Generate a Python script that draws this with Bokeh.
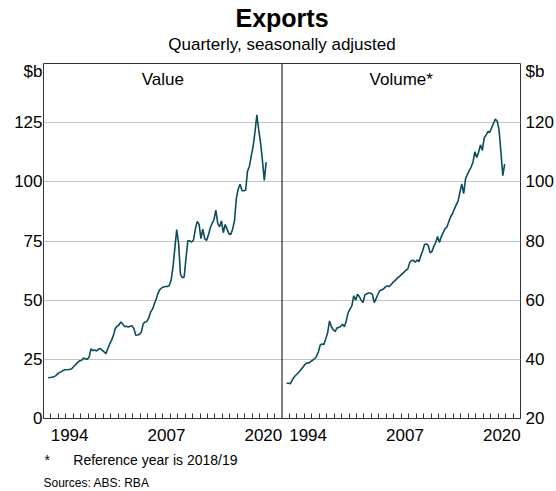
from bokeh.plotting import figure
from bokeh.models import Range1d, LinearAxis, FixedTicker, Label, Span, Title
from bokeh.embed import file_html
from bokeh.resources import INLINE

# ---------------- data ----------------
start_year, start_quarter = 1991, 3
value_bn = [
    17.2, 17.3, 17.4, 17.6, 18.0, 18.8, 19.4, 19.7, 20.3, 20.6,
    20.6, 20.7, 20.8, 21.3, 22.2, 23.0, 23.8, 24.4, 24.6, 25.6,
    25.2, 25.0, 26.0, 29.5, 28.6, 29.0, 28.5, 29.3, 29.6, 28.8,
    28.2, 27.4, 29.5, 31.5, 33.0, 35.0, 38.0, 39.0, 39.5, 40.8,
    40.0, 38.8, 39.0, 38.6, 39.0, 39.2, 38.0, 35.2, 35.3, 35.6,
    36.5, 40.0, 40.8, 41.0, 42.5, 45.0, 46.2, 48.5, 50.5, 53.0,
    54.6, 55.2, 55.6, 55.8, 55.8, 56.2, 58.5, 64.0, 72.0, 79.8,
    74.0, 61.0, 59.5, 59.8, 68.0, 75.2, 75.0, 74.6, 75.4, 80.0,
    83.3, 82.0, 76.0, 80.0, 76.0, 75.2, 77.5, 80.5, 82.5, 84.0,
    88.0, 82.5, 81.0, 83.5, 78.5, 82.0, 80.0, 78.0, 77.8, 80.0,
    83.5, 93.0, 97.0, 99.0, 96.3, 96.2, 96.5, 104.5, 106.5, 111.0,
    115.0, 121.0, 128.3, 122.0, 116.5, 109.0, 100.6, 108.3,
]
volume_bn = [
    31.9, 31.9, 31.8, 33.0, 34.0, 34.7, 35.3, 36.0, 36.8, 37.6,
    38.4, 38.8, 38.8, 39.3, 39.7, 40.2, 41.0, 42.5, 44.8, 45.2,
    45.0, 47.0, 49.0, 53.0, 51.0, 50.0, 49.4, 50.6, 50.8, 51.1,
    51.9, 51.0, 53.0, 55.8, 57.0, 58.1, 61.5, 60.0, 62.0, 61.2,
    60.0, 59.2, 61.8, 62.2, 62.4, 62.4, 62.0, 59.2, 60.5, 62.0,
    63.2, 63.5, 63.8, 64.5, 64.8, 64.6, 65.2, 66.0, 66.5, 67.2,
    67.8, 68.3, 68.9, 69.5, 70.1, 70.5, 72.7, 73.4, 73.5, 72.8,
    73.6, 73.0, 75.0, 76.7, 78.8, 79.0, 78.5, 76.0, 76.5, 78.2,
    79.5, 81.5, 79.5, 81.5, 82.8, 84.2, 84.7, 86.5, 88.2, 89.2,
    90.8, 92.2, 93.5, 96.5, 99.3, 96.0, 101.0, 102.5, 103.8, 105.0,
    106.6, 110.2, 108.2, 110.0, 112.5, 110.6, 114.8, 115.8, 117.0, 116.8,
    118.3, 119.8, 121.2, 120.5, 117.5, 110.0, 102.1, 106.0,
]
x_start, x_end = 1991, 2023
label_years = [1994, 2007, 2020]
value_ticks = [0, 25, 50, 75, 100, 125]
volume_ticks = [20, 40, 60, 80, 100, 120]
value_range = (0, 150)
volume_range = (20, 140)
unit = "$b"
title_text = "Exports"
subtitle_text = "Quarterly, seasonally adjusted"
panel_titles = ["Value", "Volume*"]
footnote_text = "*" + "\u00a0" * 6 + "Reference year is 2018/19"
sources_text = "Sources: ABS: RBA"

# quarter positions (mid-quarter)
quarters = []
yy, qq = start_year, start_quarter
for _ in value_bn:
    quarters.append(yy + (qq - 0.5) / 4)
    qq += 1
    if qq > 4:
        qq = 1
        yy += 1

FONT = "Liberation Sans"
LINE = "#0b4d5c"
span = x_end - x_start

p = figure(width=556, height=491,
           x_range=Range1d(x_start, x_end + span),
           y_range=Range1d(*value_range),
           output_backend="svg", toolbar_location=None, title=None,
           min_border_left=43, min_border_right=35,
           min_border_top=63, min_border_bottom=73)
p.extra_x_ranges = {"vol_x": Range1d(x_start - span, x_end)}
p.extra_y_ranges = {"vol": Range1d(*volume_range)}
p.outline_line_color = "#333333"
p.outline_line_width = 1
p.background_fill_color = "white"
p.border_fill_color = "white"

# grid
p.xgrid.visible = False
p.ygrid.ticker = FixedTicker(ticks=value_ticks[1:])
p.ygrid.grid_line_color = "#c4c4c4"
p.ygrid.grid_line_width = 1

# unit labels sit just under the top edge of each panel
unit_left = value_range[1] - 3.5
unit_right = volume_range[1] - 3.5 * (volume_range[1] - volume_range[0]) / (value_range[1] - value_range[0])


def bare_axis(ax, standoff, size="17px"):
    ax.major_tick_line_color = None
    ax.minor_tick_line_color = None
    ax.major_tick_in = 0
    ax.major_tick_out = 0
    ax.minor_tick_in = 0
    ax.minor_tick_out = 0
    ax.axis_line_color = None
    ax.major_label_standoff = standoff
    ax.major_label_text_font = FONT
    ax.major_label_text_font_size = size
    ax.major_label_text_color = "black"


ya = p.yaxis[0]
ya.ticker = FixedTicker(ticks=value_ticks + [unit_left])
ya.major_label_overrides = {unit_left: unit}
bare_axis(ya, 1)

ra = LinearAxis(y_range_name="vol", ticker=FixedTicker(ticks=volume_ticks + [unit_right]))
ra.major_label_overrides = {unit_right: unit}
bare_axis(ra, 5)
p.add_layout(ra, "right")

# bottom axis: year ticks inside, labels centred on the year
label_pos = [y + 0.5 for y in label_years] + [y + 0.5 + span for y in label_years]
overrides = {pos: str(y) for pos, y in zip(label_pos, label_years + label_years)}
minor = [y for y in range(x_start + 1, x_end + span) if y != x_end]
xa = p.xaxis[0]
xa.ticker = FixedTicker(ticks=label_pos, minor_ticks=minor)
xa.major_label_overrides = overrides
xa.major_tick_line_color = None
xa.major_tick_in = 0
xa.major_tick_out = 0
xa.minor_tick_in = 5
xa.minor_tick_out = 0
xa.minor_tick_line_color = "#333333"
xa.axis_line_color = "#333333"
xa.major_label_standoff = 10
xa.major_label_text_font = FONT
xa.major_label_text_font_size = "17px"
xa.major_label_text_color = "black"

# subtitle as the label of a bare axis along the top edge
ta = LinearAxis(ticker=FixedTicker(ticks=[x_end]))
ta.major_label_overrides = {x_end: subtitle_text}
bare_axis(ta, 10)
p.add_layout(ta, "above")
# main title above it
p.add_layout(Title(text=title_text, align="center", text_font=FONT,
                   text_font_size="25px", text_font_style="bold",
                   text_color="black", standoff=0), "above")

# panel divider
p.add_layout(Span(location=x_end, dimension="height", line_color="black", line_width=1))

# series
p.line(quarters, value_bn, line_color=LINE, line_width=1.6)
p.line(quarters, volume_bn, line_color=LINE, line_width=1.6,
       x_range_name="vol_x", y_range_name="vol")

# panel titles (inside the frame)
for xc, txt in [((x_start + x_end) / 2, panel_titles[0]), (x_end + span / 2, panel_titles[1])]:
    p.add_layout(Label(x=xc, y=value_range[1], text=txt, y_offset=-16,
                       text_align="center", text_baseline="alphabetic",
                       text_font=FONT, text_font_size="17px", text_color="black"))

# footnotes below
p.add_layout(Title(text=footnote_text, align="left", offset=1, text_font=FONT,
                   text_font_size="14px", text_font_style="normal",
                   text_color="black", standoff=12), "below")
p.add_layout(Title(text=sources_text, align="left", offset=0, text_font=FONT,
                   text_font_size="12px", text_font_style="normal",
                   text_color="black", standoff=0), "below")

open("out.html", "w").write(file_html(p, INLINE))
